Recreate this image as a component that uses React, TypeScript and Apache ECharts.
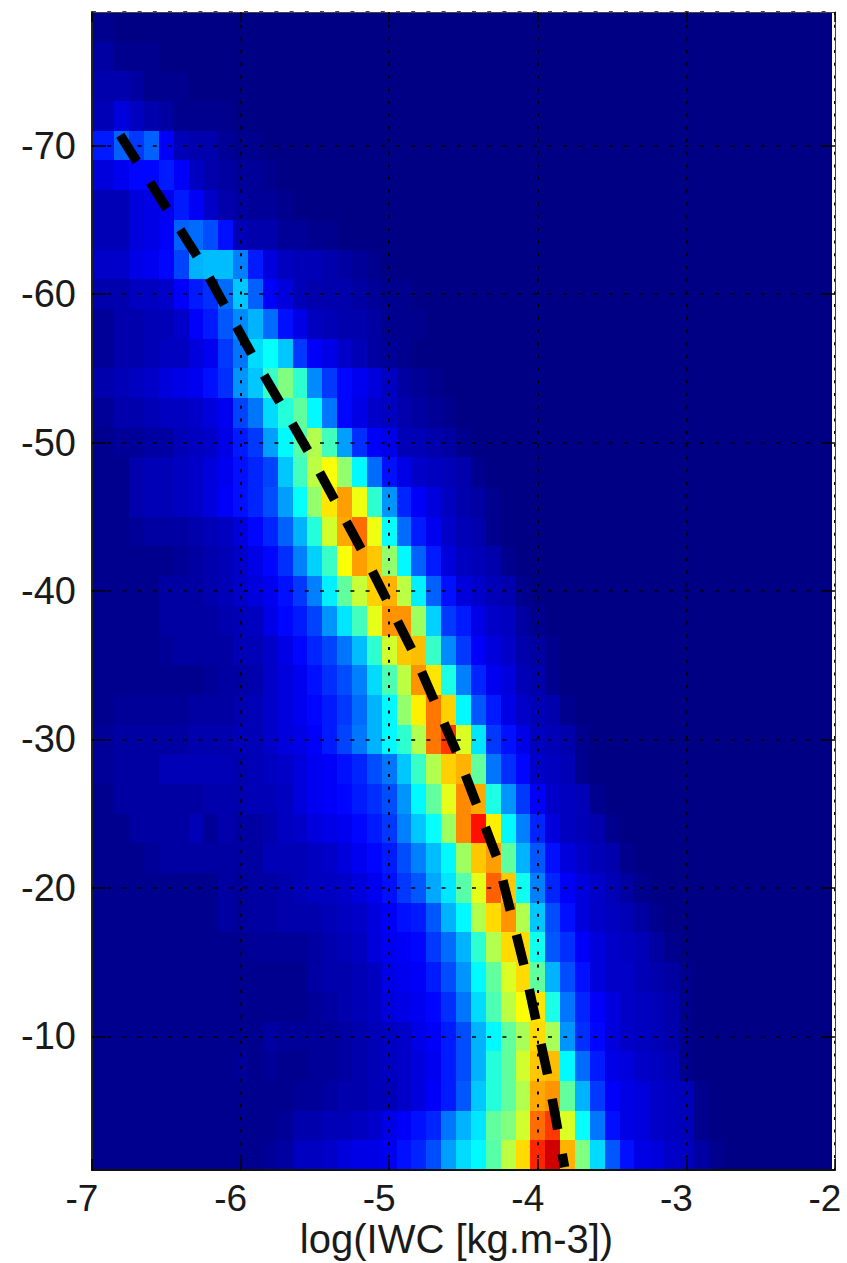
import React, { useEffect, useRef } from "react";
import * as echarts from "echarts";

// Row centres (temperature, deg C), from top to bottom of the picture
const rowCentres = [-78,-76,-74,-72,-70,-68,-66,-64,-62,-60,-58,-56,-54,-52,-50,-48,-46,-44,-42,-40,-38,-36,-34,-32,-30,-28,-26,-24,-22,-20,-18,-16,-14,-12,-10,-8,-6,-4,-2];
// Column edges in log(IWC): first and last columns are clipped
const firstColLeft = -7;
const firstColRight = -6.85;
const lastColRight = -2.02;
const colCount = 50;

const yTicks = [-70,-60,-50,-40,-30,-20,-10];
const xGrid = [-6,-5,-4,-3,-2];
const yGrid = [-79,-70,-60,-50,-40,-30,-20,-10];

// Cell values (0..100 on the jet scale); missing tail cells are 0
const cellRows = [
[1],
[3,1,1,1],
[4,4,3,1,1,1],
[5,9,6,4,3,1,1,1,1],
[15,22,18,22,12,5,4,4,2,1,1],
[9,11,13,13,15,12,6,4,3,2,2,1],
[5,5,9,10,11,15,12,7,4,3,2,2,1],
[5,5,9,10,12,22,23,20,14,5,4,4,2,2,1,1],
[7,7,10,11,13,19,30,31,31,25,15,9,6,5,5,4,3,2,1],
[4,4,6,6,7,12,15,17,23,32,22,12,9,5,4,4,4,3,2,1,1],
[2,4,4,5,5,7,12,15,21,26,30,23,14,10,6,5,4,4,3,1,1,1],
[2,4,4,5,6,6,9,11,18,24,34,38,32,18,12,10,7,5,3,2,1],
[4,5,6,7,9,10,11,14,17,27,32,43,50,42,26,18,13,11,9,6,3,2,1],
[2,4,4,5,6,6,7,9,11,19,24,34,41,47,37,24,13,10,7,6,4,3,2,1],
[1,2,2,3,3,5,6,7,10,15,18,28,37,46,55,44,28,17,12,10,5,5,4,3,1],
[1,1,4,5,5,6,7,9,11,14,16,19,32,44,56,62,52,37,23,14,10,7,6,5,4,1],
[1,1,4,5,5,6,7,9,12,14,16,20,28,38,52,65,72,61,42,27,16,12,9,6,4,3,1],
[1,1,2,3,3,3,4,5,6,9,13,16,22,30,41,58,71,77,61,38,23,15,11,7,5,4,1],
[1,1,1,1,1,2,3,4,5,7,10,13,17,25,33,43,62,72,68,52,37,22,15,9,6,5,4,1],
[1,1,1,1,3,3,3,4,5,7,9,11,14,18,25,36,47,57,67,70,56,36,22,14,9,7,5,4,1],
[1,1,1,1,3,3,3,3,4,5,6,10,13,15,19,27,35,44,60,73,73,53,33,18,15,10,7,6,3,1],
[1,1,1,1,2,3,3,3,3,5,5,7,10,13,16,19,24,31,42,58,68,69,43,26,18,12,9,7,4,3,1],
[1,1,1,1,1,1,1,2,3,3,4,7,9,11,14,17,20,25,34,45,56,73,65,40,25,16,11,9,5,4,1],
[1,2,2,2,2,2,3,3,3,4,5,7,9,11,13,15,18,23,30,37,52,64,76,67,37,21,15,10,7,5,4,1],
[2,3,3,3,3,3,4,4,4,5,5,7,9,10,12,15,19,24,30,37,42,55,76,82,59,35,18,14,10,6,5,4,1],
[2,3,3,3,5,5,5,5,5,4,5,6,7,9,11,12,14,16,20,24,32,43,55,67,70,47,24,17,13,7,6,5,1],
[1,3,3,3,3,3,3,4,4,4,5,5,6,9,11,12,13,15,17,20,27,37,47,60,74,71,40,27,18,12,7,6,5,1],
[1,1,3,3,3,3,5,2,4,3,3,4,6,7,9,10,11,13,15,18,25,32,38,53,74,86,64,37,25,16,9,6,5,4,1],
[1,1,1,2,3,3,3,3,3,3,3,5,5,5,6,7,9,11,13,15,20,25,31,37,53,68,72,47,30,21,14,9,7,5,4,1],
[1,1,1,1,1,1,1,1,3,2,3,3,4,5,6,6,7,9,11,14,18,21,29,35,46,60,78,68,39,25,16,12,9,7,5,3,1],
[1,1,1,1,1,1,1,1,3,2,3,3,4,4,4,5,6,7,9,12,14,15,21,30,37,55,66,73,55,32,20,14,9,7,6,5,3,1],
[1,1,1,1,1,1,1,1,1,1,2,2,2,2,3,4,5,6,9,11,12,13,18,23,30,42,55,66,66,39,21,17,12,9,7,6,5,3,1],
[1,1,1,1,1,1,1,1,1,1,1,1,1,1,3,4,4,5,6,10,11,12,15,20,27,37,47,59,66,47,30,20,14,9,7,7,5,4,3,1],
[1,1,1,1,1,1,1,1,1,1,1,1,1,1,2,3,4,5,6,9,10,11,13,17,24,34,45,56,62,65,40,24,16,12,9,7,6,5,4,1],
[1,1,1,1,1,1,1,1,1,1,1,3,2,2,2,2,3,4,5,6,7,10,12,15,20,30,37,47,54,66,54,27,17,13,9,7,6,5,4,1],
[1,1,1,1,1,1,1,1,1,2,1,2,1,1,2,2,3,4,5,6,7,9,11,15,20,30,41,47,58,68,69,37,23,15,10,9,7,6,5,1],
[1,1,1,1,1,1,1,1,1,1,1,1,1,2,2,3,4,4,5,5,7,9,12,15,21,32,41,47,55,71,73,47,30,18,12,10,9,7,6,5,1],
[1,1,1,1,1,1,1,1,1,1,1,1,2,4,4,5,5,6,7,10,12,14,16,24,30,35,47,50,58,77,82,59,38,24,14,10,9,7,6,5,1],
[1,1,1,1,1,1,1,1,1,1,1,2,3,6,6,7,9,10,10,11,14,16,20,28,34,37,46,56,66,84,92,70,50,34,21,14,10,9,7,6,3,1],
];

// Thick dashed fit line
const fitX = [-6.81,-6.28,-5.92,-5.54,-5.18,-4.84,-4.54,-4.27,-4.09,-3.93,-3.82];
const fitY = [-70.7,-62.35,-55.87,-49.33,-42.66,-35.9,-29.0,-21.9,-14.67,-7.25,-1.2];

const jet = ["#000085","#0000ff","#0080ff","#00ffff","#80ff80","#ffff00","#ff8000","#ff0000","#800000"];

function colLeft(c: number) {
  return c === 0 ? firstColLeft : firstColRight + 0.1 * (c - 1);
}
function colRight(c: number) {
  return c === colCount - 1 ? lastColRight : firstColRight + 0.1 * c;
}

const cells: number[][] = [];
cellRows.forEach((row, r) => {
  for (let c = 0; c < colCount; c++) {
    cells.push([colLeft(c), colRight(c), rowCentres[r], row[c] ?? 0]);
  }
});

export default function App() {
  const ref = useRef<HTMLDivElement>(null);
  useEffect(() => {
    const chart = echarts.init(ref.current!, undefined, { renderer: "svg" });
    const labelFont = { fontFamily: "Liberation Sans", color: "#1a1a1a" };
    const mirrorLine = { show: true, lineStyle: { color: "#444", width: 1 } };
    chart.setOption({
      animation: false,
      backgroundColor: "#ffffff",
      grid: { left: 92, right: 12, top: 12, bottom: 93, outerBoundsMode: "none" },
      xAxis: [
        {
          type: "value", min: -7, max: -2, interval: 1, z: 10,
          splitLine: { show: false },
          axisLine: { onZero: false, lineStyle: { color: "#111", width: 2 } },
          axisTick: { inside: true, length: 11, lineStyle: { color: "#000", width: 1.5 } },
          axisLabel: { ...labelFont, fontSize: 37, margin: 10, padding: [0, 20, 0, 0], formatter: (v: number) => String(v) },
          name: "log(IWC [kg.m-3])",
          nameLocation: "middle",
          nameGap: 49,
          nameMoveOverlap: false,
          nameTextStyle: { ...labelFont, fontSize: 40, padding: [0, 14, 0, 0] },
        },
        {
          type: "value", min: -7, max: -2, interval: 1, position: "top", z: 10,
          splitLine: { show: false },
          axisLine: { ...mirrorLine, onZero: false },
          axisTick: { inside: true, length: 10, lineStyle: { color: "#000", width: 1.5 } },
          axisLabel: { show: false },
        },
      ],
      yAxis: [
        {
          type: "value", min: -79, max: -1, inverse: true, z: 10,
          splitLine: { show: false },
          axisLine: { onZero: false, lineStyle: { color: "#222", width: 2 } },
          axisTick: { inside: true, length: 14, customValues: yTicks, lineStyle: { color: "#000", width: 1.5 } },
          axisLabel: { ...labelFont, fontSize: 38, margin: 16, customValues: yTicks },
        },
        {
          type: "value", min: -79, max: -1, inverse: true, position: "right", z: 10,
          splitLine: { show: false },
          axisLine: { ...mirrorLine, onZero: false },
          axisTick: { inside: true, length: 14, customValues: yTicks, lineStyle: { color: "#000", width: 1.5 } },
          axisLabel: { show: false },
        },
      ],
      visualMap: {
        show: false, type: "continuous", min: 0, max: 100, dimension: 3, seriesIndex: 0,
        inRange: { color: jet },
      },
      series: [
        {
          type: "custom",
          xAxisIndex: 0, yAxisIndex: 0,
          clip: true, silent: true, z: 2,
          encode: { x: [0, 1], y: 2 },
          data: cells,
          renderItem: (_p: any, api: any) => {
            const a = api.coord([api.value(0), api.value(2) - 1]);
            const b = api.coord([api.value(1), api.value(2) + 1]);
            const x0 = Math.round(a[0]);
            const y0 = Math.round(a[1]);
            const x1 = Math.round(b[0]);
            const y1 = Math.round(b[1]);
            return {
              type: "rect",
              shape: { x: x0, y: y0, width: x1 - x0, height: y1 - y0 },
              style: { fill: api.visual("color") },
            };
          },
        },
        {
          type: "line", xAxisIndex: 0, yAxisIndex: 0, data: [], z: 4, silent: true,
          markLine: {
            silent: true, symbol: "none", label: { show: false }, animation: false, precision: 4,
            data: [
              ...xGrid.map((v) => ({ xAxis: v, lineStyle: { color: "#000", width: 2, type: [3, 9.7], opacity: 1 } })),
              ...yGrid.map((v) => ({ yAxis: v, lineStyle: { color: "#000", width: 1.5, type: [4, 11.2], opacity: 1 } })),
            ],
          },
        },
        {
          type: "line", xAxisIndex: 0, yAxisIndex: 0, z: 5, silent: true,
          showSymbol: false, symbol: "none",
          data: fitX.map((x, i) => [x, fitY[i]]),
          lineStyle: { color: "#000", width: 9.5, type: [31, 25], cap: "butt", join: "round" },
        },
      ],
    });
    return () => chart.dispose();
  }, []);
  return <div ref={ref} style={{ position: "absolute", left: 0, top: 0, width: 847, height: 1263 }} />;
}
